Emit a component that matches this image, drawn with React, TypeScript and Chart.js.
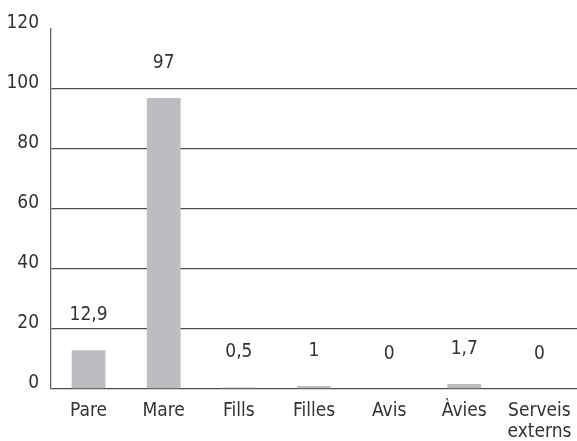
import React, { useEffect, useRef } from "react";
import { Chart, registerables } from "chart.js";

Chart.register(...registerables);

const categories: (string | string[])[] = ["Pare", "Mare", "Fills", "Filles", "Avis", "Àvies", ["Serveis", "externs"]];
const values: number[] = [12.9, 97, 0.5, 1, 0, 1.7, 0];
const yTicks: number[] = [0, 20, 40, 60, 80, 100, 120];

const FONT = "'DejaVu Sans Condensed', 'DejaVu Sans', sans-serif";
const TEXT = "#333333";

const valueLabels = {
  id: "valueLabels",
  afterDatasetsDraw(chart: any) {
    const { ctx } = chart;
    const meta = chart.getDatasetMeta(0);
    ctx.save();
    ctx.font = `19px ${FONT}`;
    ctx.fillStyle = TEXT;
    ctx.textAlign = "center";
    ctx.textBaseline = "middle";
    meta.data.forEach((bar: any, i: number) => {
      const v = values[i];
      const txt = String(v).replace(".", ",");
      ctx.fillText(txt, bar.x, bar.y - 35);
    });
    ctx.restore();
  },
};

export default function App() {
  const ref = useRef<HTMLCanvasElement | null>(null);
  useEffect(() => {
    if (!ref.current) return;
    const chart = new Chart(ref.current, {
      type: "bar",
      data: {
        labels: categories,
        datasets: [
          {
            data: values,
            backgroundColor: "#bcbdc0",
            borderWidth: 0,
            barPercentage: 0.9,
            categoryPercentage: 0.5,
          },
        ],
      },
      options: {
        animation: false,
        responsive: false,
        maintainAspectRatio: false,
        layout: { padding: { top: 29, right: 0, left: 0, bottom: 0 } },
        plugins: { legend: { display: false }, tooltip: { enabled: false } },
        scales: {
          x: {
            grid: { display: false, drawTicks: false },
            border: { display: false },
            ticks: {
              color: TEXT,
              font: { family: FONT, size: 19, lineHeight: "21px" },
              padding: 12,
              maxRotation: 0,
              autoSkip: false,
            },
            afterFit(scale: any) {
              scale.height = 52;
              scale.paddingLeft = 0;
              scale.paddingRight = 0;
            },
          },
          y: {
            min: 0,
            max: 120,
            afterBuildTicks(scale: any) {
              scale.ticks = yTicks.map((v) => ({ value: v }));
            },
            grid: {
              color: (c: any) => (c.tick && c.tick.value === 120 ? "rgba(0,0,0,0)" : "#4d4d4d"),
              lineWidth: 1.3,
              drawTicks: false,
            },
            border: { display: true, color: "#666666", width: 1.3 },
            ticks: {
              color: TEXT,
              font: { family: FONT, size: 19, lineHeight: "11px" },
              padding: 12,
              callback: (v: any) => [String(v), ""],
            },
            afterFit(scale: any) {
              scale.width = 51;
              scale.paddingTop = 0;
              scale.paddingBottom = 0;
            },
          },
        },
      },
      plugins: [valueLabels],
    });
    return () => chart.destroy();
  }, []);
  return (
    <div style={{ position: "fixed", left: 0, top: 0, width: 577, height: 441, background: "#fff" }}>
      <canvas ref={ref} width={577} height={441} style={{ width: 577, height: 441 }} />
    </div>
  );
}
